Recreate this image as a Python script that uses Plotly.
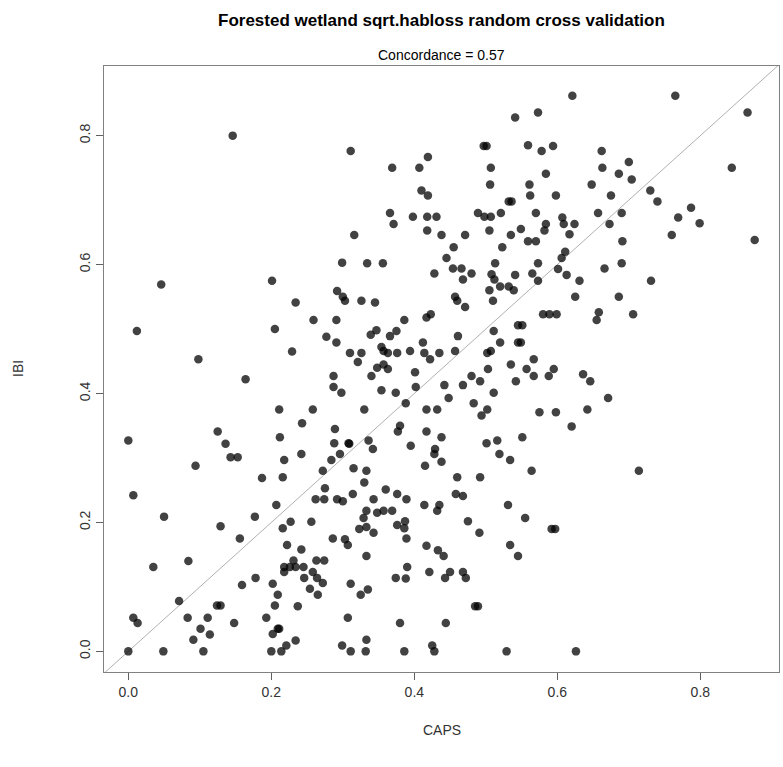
import plotly.graph_objects as go

# CAPS (x) and IBI (y) values
caps = [0.146, 0.311, 0.369, 0.407, 0.419, 0.410, 0.419, 0.366, 0.398, 0.418, 0.431, 0.497, 0.501, 0.541, 0.573, 0.559, 0.578, 0.594, 0.507, 0.584,
        0.506, 0.561, 0.562, 0.598, 0.532, 0.536, 0.489, 0.498, 0.507, 0.521, 0.570, 0.621, 0.765, 0.866, 0.662, 0.700, 0.663, 0.686, 0.704, 0.648,
        0.844, 0.675, 0.730, 0.740, 0.787, 0.657, 0.690, 0.607, 0.769, 0.046, 0.012, 0.098, 0.201, 0.234, 0.259, 0.205, 0.277, 0.229, 0.371, 0.584,
        0.582, 0.505, 0.418, 0.316, 0.438, 0.471, 0.535, 0.549, 0.559, 0.570, 0.455, 0.523, 0.299, 0.334, 0.356, 0.445, 0.454, 0.466, 0.480, 0.468,
        0.428, 0.513, 0.573, 0.508, 0.512, 0.541, 0.565, 0.573, 0.520, 0.532, 0.539, 0.505, 0.510, 0.292, 0.300, 0.303, 0.326, 0.345, 0.457, 0.460,
        0.471, 0.291, 0.386, 0.417, 0.423, 0.580, 0.589, 0.545, 0.551, 0.511, 0.347, 0.339, 0.375, 0.366, 0.461, 0.291, 0.412, 0.520, 0.545, 0.549,
        0.354, 0.357, 0.310, 0.326, 0.321, 0.363, 0.376, 0.394, 0.414, 0.422, 0.435, 0.457, 0.502, 0.507, 0.567, 0.535, 0.557, 0.348, 0.357, 0.363,
        0.401, 0.503, 0.609, 0.624, 0.673, 0.799, 0.617, 0.760, 0.876, 0.691, 0.611, 0.606, 0.690, 0.666, 0.601, 0.613, 0.631, 0.731, 0.625, 0.686,
        0.599, 0.658, 0.655, 0.706, 0.595, 0.636, 0.164, 0.211, 0.258, 0.243, 0.125, 0.000, 0.136, 0.143, 0.153, 0.212, 0.242, 0.218, 0.094, 0.187,
        0.216, 0.272, 0.275, 0.262, 0.274, 0.007, 0.207, 0.050, 0.177, 0.129, 0.227, 0.256, 0.216, 0.287, 0.340, 0.287, 0.298, 0.354, 0.374, 0.402,
        0.330, 0.388, 0.442, 0.480, 0.468, 0.492, 0.542, 0.567, 0.588, 0.448, 0.511, 0.483, 0.417, 0.432, 0.502, 0.494, 0.575, 0.289, 0.380, 0.377,
        0.417, 0.438, 0.551, 0.288, 0.308, 0.309, 0.336, 0.342, 0.296, 0.284, 0.395, 0.429, 0.428, 0.438, 0.415, 0.501, 0.516, 0.519, 0.534, 0.564,
        0.315, 0.333, 0.330, 0.460, 0.492, 0.292, 0.300, 0.314, 0.360, 0.343, 0.376, 0.389, 0.458, 0.468, 0.414, 0.435, 0.432, 0.531, 0.333, 0.348,
        0.357, 0.369, 0.329, 0.387, 0.376, 0.475, 0.555, 0.323, 0.333, 0.343, 0.646, 0.671, 0.598, 0.642, 0.620, 0.714, 0.592, 0.597, 0.156, 0.222,
        0.242, 0.035, 0.084, 0.231, 0.218, 0.218, 0.226, 0.234, 0.245, 0.263, 0.274, 0.258, 0.264, 0.272, 0.246, 0.254, 0.265, 0.178, 0.159, 0.202,
        0.209, 0.205, 0.237, 0.071, 0.007, 0.013, 0.083, 0.111, 0.124, 0.129, 0.101, 0.114, 0.091, 0.148, 0.193, 0.209, 0.211, 0.202, 0.234, 0.221,
        0.214, 0.200, 0.000, 0.049, 0.105, 0.386, 0.286, 0.303, 0.307, 0.389, 0.333, 0.417, 0.433, 0.441, 0.491, 0.534, 0.545, 0.390, 0.374, 0.388,
        0.421, 0.443, 0.450, 0.468, 0.472, 0.311, 0.325, 0.335, 0.485, 0.489, 0.307, 0.380, 0.444, 0.333, 0.299, 0.311, 0.332, 0.386, 0.425, 0.428,
        0.529, 0.626]

ibi = [0.800, 0.776, 0.750, 0.750, 0.767, 0.715, 0.707, 0.680, 0.674, 0.674, 0.674, 0.784, 0.784, 0.828, 0.836, 0.785, 0.776, 0.784, 0.750, 0.741,
       0.724, 0.724, 0.707, 0.707, 0.698, 0.698, 0.680, 0.674, 0.674, 0.680, 0.680, 0.862, 0.862, 0.836, 0.776, 0.759, 0.750, 0.741, 0.732, 0.724,
       0.750, 0.707, 0.715, 0.698, 0.688, 0.680, 0.680, 0.673, 0.673, 0.569, 0.497, 0.453, 0.575, 0.541, 0.514, 0.500, 0.488, 0.465, 0.663, 0.663,
       0.653, 0.653, 0.653, 0.646, 0.646, 0.646, 0.646, 0.655, 0.636, 0.636, 0.627, 0.627, 0.603, 0.602, 0.602, 0.610, 0.594, 0.594, 0.586, 0.577,
       0.586, 0.602, 0.602, 0.585, 0.577, 0.584, 0.586, 0.575, 0.566, 0.566, 0.560, 0.560, 0.544, 0.559, 0.550, 0.544, 0.544, 0.541, 0.550, 0.544,
       0.534, 0.514, 0.514, 0.518, 0.523, 0.523, 0.523, 0.506, 0.506, 0.497, 0.498, 0.491, 0.497, 0.489, 0.489, 0.479, 0.479, 0.479, 0.479, 0.479,
       0.472, 0.466, 0.463, 0.463, 0.449, 0.463, 0.463, 0.466, 0.463, 0.453, 0.463, 0.466, 0.463, 0.466, 0.453, 0.445, 0.438, 0.440, 0.445, 0.438,
       0.433, 0.438, 0.663, 0.663, 0.663, 0.664, 0.647, 0.646, 0.638, 0.636, 0.620, 0.610, 0.602, 0.594, 0.593, 0.584, 0.575, 0.575, 0.550, 0.550,
       0.523, 0.526, 0.514, 0.523, 0.438, 0.430, 0.422, 0.375, 0.375, 0.354, 0.341, 0.327, 0.322, 0.301, 0.301, 0.332, 0.306, 0.297, 0.288, 0.269,
       0.270, 0.280, 0.253, 0.236, 0.236, 0.242, 0.227, 0.209, 0.209, 0.194, 0.201, 0.201, 0.191, 0.427, 0.427, 0.410, 0.401, 0.405, 0.401, 0.410,
       0.375, 0.385, 0.413, 0.427, 0.413, 0.419, 0.419, 0.427, 0.427, 0.393, 0.401, 0.385, 0.375, 0.375, 0.375, 0.366, 0.371, 0.345, 0.350, 0.341,
       0.341, 0.332, 0.332, 0.323, 0.323, 0.322, 0.327, 0.314, 0.306, 0.297, 0.319, 0.314, 0.306, 0.294, 0.288, 0.323, 0.327, 0.306, 0.297, 0.280,
       0.284, 0.280, 0.262, 0.270, 0.270, 0.236, 0.233, 0.244, 0.251, 0.236, 0.244, 0.236, 0.244, 0.241, 0.227, 0.227, 0.218, 0.227, 0.218, 0.215,
       0.218, 0.218, 0.207, 0.202, 0.196, 0.202, 0.207, 0.190, 0.193, 0.184, 0.419, 0.393, 0.371, 0.375, 0.349, 0.280, 0.190, 0.190, 0.175, 0.165,
       0.158, 0.131, 0.140, 0.141, 0.131, 0.123, 0.131, 0.131, 0.131, 0.141, 0.141, 0.123, 0.114, 0.106, 0.114, 0.097, 0.088, 0.114, 0.103, 0.105,
       0.088, 0.071, 0.070, 0.078, 0.052, 0.044, 0.052, 0.052, 0.071, 0.071, 0.035, 0.026, 0.018, 0.044, 0.052, 0.035, 0.035, 0.027, 0.017, 0.009,
       0.000, 0.000, 0.000, 0.000, 0.000, 0.191, 0.175, 0.174, 0.165, 0.175, 0.148, 0.164, 0.157, 0.148, 0.184, 0.165, 0.148, 0.131, 0.114, 0.113,
       0.123, 0.114, 0.123, 0.123, 0.114, 0.105, 0.088, 0.096, 0.070, 0.070, 0.052, 0.044, 0.044, 0.018, 0.009, 0.000, 0.000, 0.000, 0.009, 0.000,
       0.000, 0.000]

tick_vals = [0.0, 0.2, 0.4, 0.6, 0.8]
tick_text = ["0.0", "0.2", "0.4", "0.6", "0.8"]

title_text = "Forested wetland sqrt.habloss random cross validation"
subtitle_text = "Concordance = 0.57"
x_title = "CAPS"
y_title = "IBI"

x_range = [-0.034, 0.910]
y_range = [-0.032, 0.908]

FONT = "Liberation Sans, Arial, sans-serif"

fig = go.Figure()

# 1:1 reference line across the whole plot region
lo = min(x_range[0], y_range[0])
hi = max(x_range[1], y_range[1])
fig.add_trace(go.Scatter(x=[lo, hi], y=[lo, hi], mode="lines",
                         line=dict(color="#b0b0b0", width=1),
                         hoverinfo="skip", showlegend=False))

fig.add_trace(go.Scatter(x=caps, y=ibi, mode="markers",
                         marker=dict(size=8.5, color="rgba(0,0,0,0.74)", line=dict(width=0)),
                         showlegend=False))

axis_common = dict(showgrid=False, zeroline=False, showline=True, mirror=True,
                   linecolor="#808080", linewidth=1, ticks="outside", ticklen=7,
                   tickcolor="#606060", tickwidth=1, tickvals=tick_vals, ticktext=tick_text,
                   tickfont=dict(family=FONT, size=14, color="#333333"))

fig.update_layout(
    width=783, height=767,
    margin=dict(l=104, r=4, t=66, b=95),
    paper_bgcolor="white", plot_bgcolor="white",
    xaxis=dict(range=x_range, **axis_common),
    yaxis=dict(range=y_range, tickangle=-90, **axis_common),
    annotations=[
        dict(text="<b>" + title_text + "</b>", xref="paper", yref="paper", x=0.5, y=1,
             yanchor="middle", xanchor="center", yshift=46, showarrow=False,
             font=dict(family=FONT, size=17, color="black")),
        dict(text=subtitle_text, xref="paper", yref="paper", x=0.5, y=1,
             yanchor="middle", xanchor="center", yshift=11, showarrow=False,
             font=dict(family=FONT, size=14, color="black")),
        dict(text=x_title, xref="paper", yref="paper", x=0.5, y=0,
             yanchor="middle", xanchor="center", yshift=-58, showarrow=False,
             font=dict(family=FONT, size=14, color="#333333")),
        dict(text=y_title, xref="paper", yref="paper", x=0, y=0.5,
             yanchor="middle", xanchor="center", xshift=-86, textangle=-90, showarrow=False,
             font=dict(family=FONT, size=14, color="#333333")),
    ],
)

fig.write_html("out.html")
